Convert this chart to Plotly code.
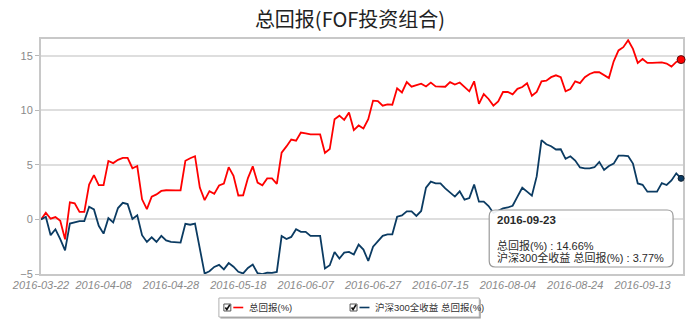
import pandas as pd
import plotly.graph_objects as go

# Trading-day axis (weekdays) from 2016-03-22 to 2016-09-23
dates = pd.bdate_range("2016-03-22", "2016-09-23").strftime("%Y-%m-%d").tolist()

tick_labels = ["2016-03-22", "2016-04-08", "2016-04-28", "2016-05-18", "2016-06-07",
               "2016-06-27", "2016-07-15", "2016-08-04", "2016-08-24", "2016-09-13"]

series_names = ["总回报(%)", "沪深300全收益 总回报(%)"]

# Cumulative return of the FOF portfolio (%)
fof_return = [
    0.00, 0.62, 0.07, 0.22, -0.12, -1.82, 1.58, 1.48, 0.70, 0.70,
    3.20, 4.07, 3.15, 3.15, 5.37, 5.17, 5.47, 5.65, 5.65, 4.70,
    4.90, 1.85, 0.95, 2.10, 2.30, 2.62, 2.68, 2.65, 2.67, 2.68,
    5.38, 5.62, 5.80, 2.92, 1.77, 2.60, 2.35, 3.12, 3.30, 4.80,
    4.00, 2.20, 2.22, 3.80, 4.87, 3.38, 3.14, 3.76, 3.77, 3.27,
    6.13, 6.70, 7.33, 7.22, 7.97, 7.90, 7.80, 7.80, 7.80, 6.10,
    6.46, 9.20, 9.52, 9.14, 9.82, 8.20, 8.62, 8.35, 9.20, 10.90,
    10.86, 10.43, 10.55, 10.52, 12.03, 11.65, 12.60, 12.18, 12.34, 12.45,
    12.20, 12.55, 12.20, 12.17, 12.17, 12.60, 12.38, 12.56, 12.15, 11.75,
    12.67, 10.60, 11.50, 11.05, 10.44, 10.83, 11.69, 11.69, 11.48, 11.98,
    12.15, 12.49, 11.35, 11.70, 12.67, 12.73, 13.05, 13.22, 13.05, 11.75,
    11.96, 12.67, 12.50, 13.04, 13.34, 13.50, 13.50, 13.20, 12.97, 14.50,
    15.50, 15.80, 16.44, 15.64, 14.36, 14.72, 14.36, 14.36, 14.36, 14.40,
    14.30, 14.02, 14.45, 14.66,
]

# CSI 300 total-return index, cumulative return (%)
csi300_return = [
    0.00, 0.25, -1.44, -0.90, -1.80, -2.83, -0.37, -0.28, -0.15, -0.15,
    1.17, 0.92, -0.58, -1.30, 0.12, -0.28, 1.05, 1.53, 1.41, 0.05,
    0.38, -1.44, -2.06, -1.63, -2.06, -1.50, -1.92, -2.06, -2.12, -2.12,
    -0.40, -0.48, -0.37, -2.75, -4.96, -4.75, -4.35, -4.16, -4.57, -4.00,
    -4.33, -4.80, -4.95, -4.45, -4.14, -4.92, -5.02, -4.88, -4.90, -4.81,
    -1.52, -1.80, -1.60, -0.90, -1.13, -1.13, -1.50, -1.50, -1.50, -4.50,
    -4.20, -2.98, -3.59, -3.04, -2.98, -3.21, -2.30, -2.76, -3.81, -2.50,
    -2.00, -1.50, -1.36, -1.36, 0.25, 0.37, 0.75, 0.75, 0.33, 0.78,
    2.92, 3.47, 3.31, 3.31, 2.85, 2.47, 2.10, 2.58, 1.82, 1.97,
    3.20, 1.63, 1.63, 1.23, 0.60, 0.80, 1.01, 1.10, 1.26, 2.09,
    2.91, 2.55, 2.18, 3.95, 7.28, 6.90, 6.72, 6.42, 6.44, 5.56,
    5.80, 5.40, 4.77, 4.69, 4.69, 4.79, 5.28, 4.54, 4.90, 5.12,
    5.85, 5.85, 5.82, 5.13, 3.30, 3.18, 2.55, 2.55, 2.55, 3.33,
    3.16, 3.58, 4.23, 3.77,
]

RED = "#ff0000"
NAVY = "#0b3b62"
LATIN_CJK = "Liberation Sans, Noto Sans CJK SC, sans-serif"

W, H = 700, 325
L, R, T, B = 37, 683, 39, 274  # plot area in pixels


def fx(x):
    return (x - L) / (R - L)


def fy(y):
    return (B - y) / (B - T)


def rounded_rect(x0, y0, x1, y1, r):
    pts = [
        f"M {fx(x0 + r)},{fy(y0)}",
        f"L {fx(x1 - r)},{fy(y0)}",
        f"Q {fx(x1)},{fy(y0)} {fx(x1)},{fy(y0 + r)}",
        f"L {fx(x1)},{fy(y1 - r)}",
        f"Q {fx(x1)},{fy(y1)} {fx(x1 - r)},{fy(y1)}",
        f"L {fx(x0 + r)},{fy(y1)}",
        f"Q {fx(x0)},{fy(y1)} {fx(x0)},{fy(y1 - r)}",
        f"L {fx(x0)},{fy(y0 + r)}",
        f"Q {fx(x0)},{fy(y0)} {fx(x0 + r)},{fy(y0)}",
        "Z",
    ]
    return " ".join(pts)


fig = go.Figure()

fig.add_trace(go.Scatter(x=dates, y=fof_return, mode="lines", name=series_names[0],
                         line=dict(color=RED, width=1.8), hoverinfo="skip"))
fig.add_trace(go.Scatter(x=dates, y=csi300_return, mode="lines", name=series_names[1],
                         line=dict(color=NAVY, width=1.8), hoverinfo="skip"))

# highlighted last points
fig.add_trace(go.Scatter(x=[dates[-1]], y=[fof_return[-1]], mode="markers", cliponaxis=False,
                         marker=dict(color=RED, size=8, line=dict(color="#5a1010", width=1)),
                         hoverinfo="skip"))
fig.add_trace(go.Scatter(x=[dates[-1]], y=[csi300_return[-1]], mode="markers", cliponaxis=False,
                         marker=dict(color=NAVY, size=6, line=dict(color="#102030", width=1)),
                         hoverinfo="skip"))

shapes = []
annotations = []

# tooltip box for the last date
shapes.append(dict(type="path", xref="paper", yref="paper", layer="above",
                   path=rounded_rect(488, 210, 673, 267, 6),
                   fillcolor="rgba(255,255,255,0.92)", line=dict(color="#9a9a9a", width=1.2)))
annotations.append(dict(xref="paper", yref="paper", x=fx(494), y=fy(220), xanchor="left", yanchor="middle",
                        text=f"<b>{dates[-1]}</b>", showarrow=False,
                        font=dict(family=LATIN_CJK, size=11.5, color="#2a2a2a")))
annotations.append(dict(xref="paper", yref="paper", x=fx(494), y=fy(245), xanchor="left", yanchor="middle",
                        text=f"{series_names[0]} : {fof_return[-1]:.2f}%", showarrow=False,
                        font=dict(family=LATIN_CJK, size=11, color="#2a2a2a")))
annotations.append(dict(xref="paper", yref="paper", x=fx(494), y=fy(257), xanchor="left", yanchor="middle",
                        text=f"{series_names[1]} : {csi300_return[-1]:.2f}%", showarrow=False,
                        font=dict(family=LATIN_CJK, size=11, color="#2a2a2a")))

# legend box with checkboxes
shapes.append(dict(type="rect", xref="paper", yref="paper", x0=fx(217.5), x1=fx(479.5), y0=fy(299.5), y1=fy(318.5),
                   fillcolor="#9c9c9c", line=dict(width=0), layer="above"))
shapes.append(dict(type="rect", xref="paper", yref="paper", x0=fx(216), x1=fx(478), y0=fy(298), y1=fy(317),
                   fillcolor="white", line=dict(color="#b0b0b0", width=1), layer="above"))

legend_items = [(221, RED, series_names[0]), (348, NAVY, series_names[1])]
for bx, color, label in legend_items:
    shapes.append(dict(type="rect", xref="paper", yref="paper", x0=fx(bx), x1=fx(bx + 7), y0=fy(304), y1=fy(311),
                       fillcolor="white", line=dict(color="#555555", width=1), layer="above"))
    shapes.append(dict(type="path", xref="paper", yref="paper", layer="above",
                       path=f"M {fx(bx + 1.5)},{fy(307.5)} L {fx(bx + 3)},{fy(309.5)} L {fx(bx + 6)},{fy(304.8)}",
                       line=dict(color="#111111", width=1.6)))
    shapes.append(dict(type="line", xref="paper", yref="paper", x0=fx(bx + 9.5), x1=fx(bx + 19.5),
                       y0=fy(307.5), y1=fy(307.5), line=dict(color=color, width=1.6), layer="above"))
    annotations.append(dict(xref="paper", yref="paper", x=fx(bx + 23.5), y=fy(307.5), xanchor="left",
                            yanchor="middle", text=label, showarrow=False,
                            font=dict(family=LATIN_CJK, size=9.5, color="#333333")))

fig.update_layout(
    width=W, height=H, autosize=False,
    margin=dict(l=L, r=W - R, t=T, b=H - B),
    paper_bgcolor="white", plot_bgcolor="white",
    showlegend=False,
    title=dict(text="总回报(FOF投资组合)", x=0.5, xref="container", xanchor="center",
               y=1 - 20 / H, yref="container", yanchor="middle",
               font=dict(family="Noto Sans CJK SC, Liberation Sans", size=20, color="#222222")),
    shapes=shapes, annotations=annotations,
)

fig.update_xaxes(type="category", range=[0, 133.4], tickmode="array",
                 tickvals=tick_labels, ticktext=tick_labels, ticks="", showgrid=False,
                 showline=True, linecolor="#c8c8c8", linewidth=2, mirror=True, layer="below traces",
                 tickfont=dict(family="Liberation Sans", size=11, color="#8a8a8a", style="italic"),
                 zeroline=False)
fig.update_yaxes(range=[-5, 16.55], tickvals=[-5, 0, 5, 10, 15], ticks="outside", ticklen=4,
                 tickcolor="#b8b8b8", showgrid=True, gridcolor="#dedede", gridwidth=1.5,
                 showline=True, linecolor="#c8c8c8", linewidth=2, mirror=True, layer="below traces",
                 tickfont=dict(family="Liberation Sans", size=11, color="#8a8a8a"),
                 zeroline=False)

fig.write_html("out.html")
